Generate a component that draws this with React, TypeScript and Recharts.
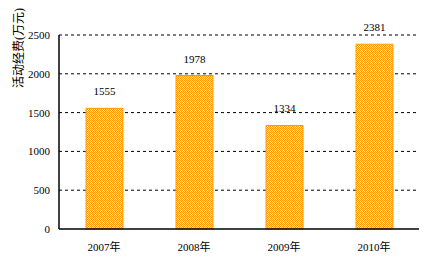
import { BarChart, Bar, XAxis, YAxis, CartesianGrid, LabelList, Label } from "recharts";

const years = ["2007年", "2008年", "2009年", "2010年"];
const funds = [1555, 1978, 1334, 2381];
const yTicks = [0, 500, 1000, 1500, 2000, 2500];
const boundaryTicks = [0, 1, 2, 3, 4];

const data = years.map((year, i) => ({ year, value: funds[i] }));

const FONT = "'Liberation Serif', 'Noto Sans CJK SC', serif";

function AxisTitle() {
  return (
    <text
      transform="translate(19,48) rotate(-90)"
      textAnchor="middle"
      dominantBaseline="central"
      fontSize={12}
      fontFamily={FONT}
      fill="#000"
    >
      活动经费(万元)
    </text>
  );
}

// 1px checker of orange / pale yellow with a few white dots
const whiteDots = ["1,2", "5,2", "3,6", "7,6"];
const cells: { x: number; y: number; c: string }[] = [];
for (let y = 0; y < 8; y++) {
  for (let x = 0; x < 8; x++) {
    if ((x + y) % 2 === 0) cells.push({ x, y, c: "#FF9900" });
    else if (whiteDots.includes(`${x},${y}`)) cells.push({ x, y, c: "#FFFFFF" });
  }
}

export default function App() {
  return (
    <div style={{ position: "fixed", left: 0, top: 0, background: "#fff" }}>
      <BarChart width={446} height={272} data={data} margin={{ top: 35, right: 27, bottom: 23, left: 0 }}>
        <defs>
          <pattern id="checker" width="8" height="8" patternUnits="userSpaceOnUse">
            <rect width="8" height="8" fill="#FFE27A" />
            {cells.map((p, i) => (
              <rect key={i} x={p.x} y={p.y} width="1" height="1" fill={p.c} />
            ))}
          </pattern>
        </defs>
        <CartesianGrid
          vertical={false}
          stroke="#000"
          strokeDasharray="3 3"
          horizontalValues={[500, 1000, 1500, 2000, 2500]}
        />
        <XAxis
          xAxisId="bounds"
          type="number"
          domain={[0, 4]}
          ticks={boundaryTicks}
          height={0}
          mirror
          tick={false}
          tickSize={4}
          axisLine={false}
          tickLine={{ stroke: "#000", strokeWidth: 1.5 }}
        />
        <XAxis
          dataKey="year"
          height={20}
          tickLine={false}
          tickSize={0}
          tickMargin={14}
          axisLine={{ stroke: "#000", strokeWidth: 1.5 }}
          tick={{ fill: "#000", fontSize: 11, fontFamily: FONT }}
        />
        <YAxis
          width={59}
          domain={[0, 2500]}
          ticks={yTicks}
          interval={0}
          tickLine={false}
          tickSize={9}
          tickMargin={0}
          axisLine={{ stroke: "#000", strokeWidth: 1.5 }}
          tick={{ fill: "#000", fontSize: 11, fontFamily: FONT }}
        >
          <Label content={<AxisTitle />} />
        </YAxis>
        <Bar dataKey="value" barSize={37} fill="url(#checker)" stroke="#FF9900" strokeWidth={1} isAnimationActive={false}>
          <LabelList dataKey="value" position="top" offset={13} fill="#000" fontSize={11} fontFamily={FONT} />
        </Bar>
      </BarChart>
    </div>
  );
}
